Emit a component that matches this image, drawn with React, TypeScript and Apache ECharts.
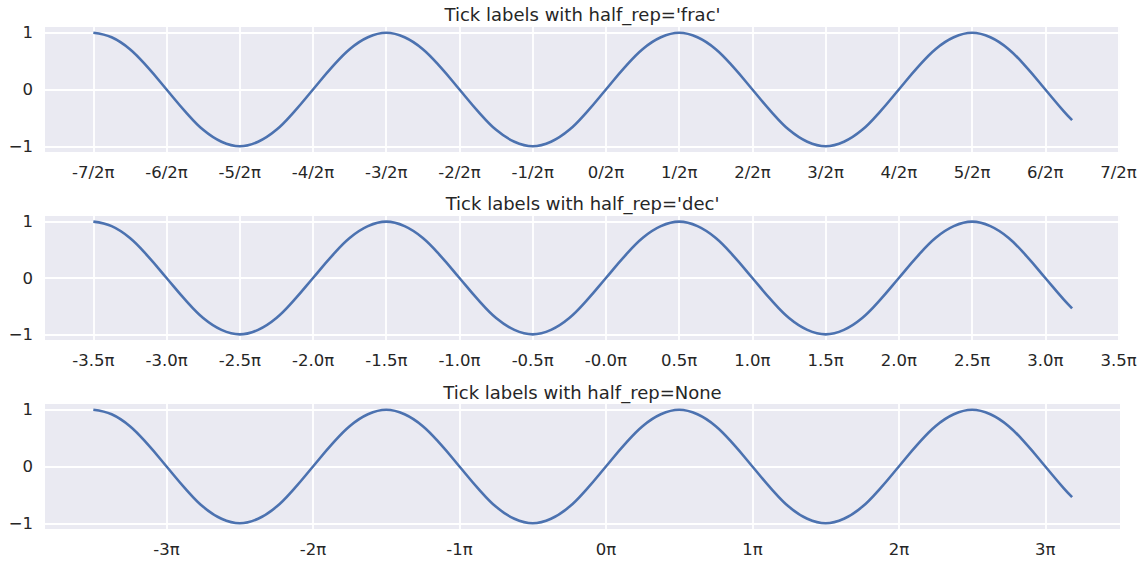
import React, { useEffect, useRef } from 'react'
import * as echarts from 'echarts'

const xPi = [
  -3.5, -3.375, -3.25, -3.125, -3, -2.875, -2.75, -2.625, -2.5, -2.375, -2.25, -2.125,
  -2, -1.875, -1.75, -1.625, -1.5, -1.375, -1.25, -1.125, -1, -0.875, -0.75, -0.625,
  -0.5, -0.375, -0.25, -0.125, 0, 0.125, 0.25, 0.375, 0.5, 0.625, 0.75, 0.875,
  1, 1.125, 1.25, 1.375, 1.5, 1.625, 1.75, 1.875, 2, 2.125, 2.25, 2.375,
  2.5, 2.625, 2.75, 2.875, 3, 3.125, 3.183,
]
const yVals = [
  1, 0.92, 0.71, 0.38, 0, -0.38, -0.71, -0.92, -1, -0.92, -0.71, -0.38,
  0, 0.38, 0.71, 0.92, 1, 0.92, 0.71, 0.38, 0, -0.38, -0.71, -0.92,
  -1, -0.92, -0.71, -0.38, 0, 0.38, 0.71, 0.92, 1, 0.92, 0.71, 0.38,
  0, -0.38, -0.71, -0.92, -1, -0.92, -0.71, -0.38, 0, 0.38, 0.71, 0.92,
  1, 0.92, 0.71, 0.38, 0, -0.38, -0.54,
]

const halfTicks = [-3.5, -3, -2.5, -2, -1.5, -1, -0.5, 0, 0.5, 1, 1.5, 2, 2.5, 3, 3.5]
const fracLabels = [
  '-7/2π', '-6/2π', '-5/2π', '-4/2π', '-3/2π', '-2/2π', '-1/2π', '0/2π',
  '1/2π', '2/2π', '3/2π', '4/2π', '5/2π', '6/2π', '7/2π',
]
const decLabels = [
  '-3.5π', '-3.0π', '-2.5π', '-2.0π', '-1.5π', '-1.0π', '-0.5π', '-0.0π',
  '0.5π', '1.0π', '1.5π', '2.0π', '2.5π', '3.0π', '3.5π',
]
const wholeTicks = [-3, -2, -1, 0, 1, 2, 3]
const noneLabels = ['-3π', '-2π', '-1π', '0π', '1π', '2π', '3π']

const yTicks = [-1, 0, 1]
const yLabels = ['−1', '0', '1']

const titles = [
  "Tick labels with half_rep='frac'",
  "Tick labels with half_rep='dec'",
  'Tick labels with half_rep=None',
]

const TEXT = '#262626'
const FONT = 'DejaVu Sans'

export default function App(): JSX.Element {
  const ref = useRef<HTMLDivElement>(null)

  useEffect(() => {
    if (!ref.current) return
    const chart = echarts.init(ref.current, null, { renderer: 'svg' })
    const data = xPi.map((x, i) => [x, yVals[i]])

    const gridTops = [27, 216, 404]
    const gridHeights = [125, 124, 125]
    const titleYs = [14, 203, 392]
    const tickSets = [halfTicks, halfTicks, wholeTicks]
    const labelSets = [fracLabels, decLabels, noneLabels]

    chart.setOption({
      animation: false,
      backgroundColor: '#ffffff',
      textStyle: { fontFamily: FONT },
      grid: gridTops.map((top, i) => ({
        left: 45,
        top,
        width: 1075,
        height: gridHeights[i],
        show: true,
        backgroundColor: '#EAEAF2',
        borderWidth: 0,
      })),
      xAxis: tickSets.map((ticks, i) => ({
        type: 'value',
        gridIndex: i,
        min: -3.83,
        max: 3.51,
        axisLine: { show: false },
        axisTick: { show: false, customValues: ticks },
        splitLine: { show: true, lineStyle: { color: '#ffffff', width: 1.8 } },
        axisLabel: {
          customValues: ticks,
          color: TEXT,
          fontSize: 16.5,
          fontFamily: FONT,
          margin: 12,
          formatter: (v: number) => {
            const k = ticks.findIndex((t) => Math.abs(t - v) < 1e-6)
            return k >= 0 ? labelSets[i][k] : ''
          },
        },
      })),
      yAxis: gridTops.map((_, i) => ({
        type: 'value',
        gridIndex: i,
        min: -1.1,
        max: 1.1,
        axisLine: { show: false },
        axisTick: { show: false, customValues: yTicks },
        splitLine: { show: true, lineStyle: { color: '#ffffff', width: 1.8 } },
        axisLabel: {
          customValues: yTicks,
          color: TEXT,
          fontSize: 16.5,
          fontFamily: FONT,
          margin: 12,
          formatter: (v: number) => {
            const k = yTicks.findIndex((t) => Math.abs(t - v) < 1e-6)
            return k >= 0 ? yLabels[k] : ''
          },
        },
      })),
      series: gridTops.map((_, i) => ({
        type: 'line',
        xAxisIndex: i,
        yAxisIndex: i,
        data,
        smooth: 0.4,
        showSymbol: false,
        lineStyle: { color: '#4C72B0', width: 2.6 },
      })),
      graphic: titles.map((t, i) => ({
        type: 'text',
        x: 582.5,
        y: titleYs[i],
        style: {
          text: t,
          fill: TEXT,
          font: `18px "${FONT}"`,
          textAlign: 'center',
          textVerticalAlign: 'middle',
        },
      })),
    })

    return () => chart.dispose()
  }, [])

  return (
    <div
      ref={ref}
      style={{ position: 'absolute', left: 0, top: 0, width: 1144, height: 568 }}
    />
  )
}
